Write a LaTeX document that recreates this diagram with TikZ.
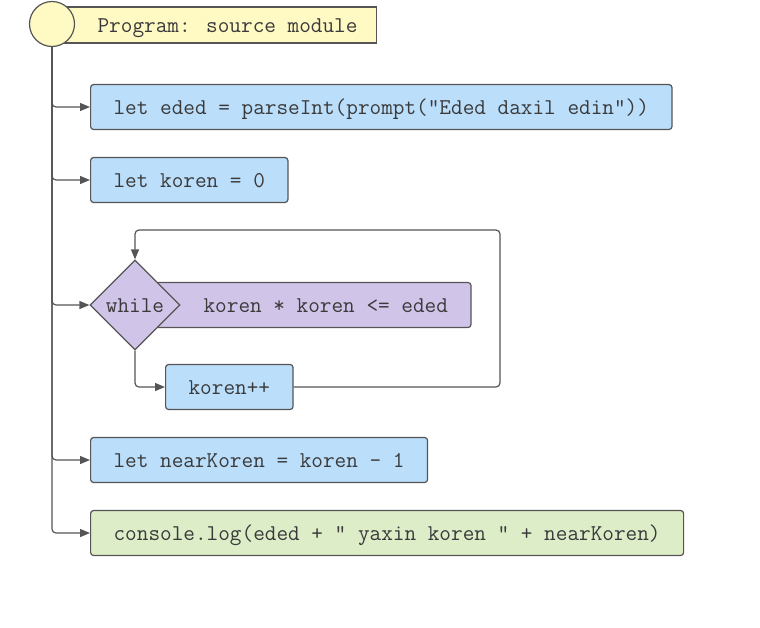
\documentclass[tikz,border=0pt]{standalone}
\usepackage{fontspec}
\usetikzlibrary{shapes.geometric,arrows.meta}
\definecolor{edgec}{HTML}{555555}
\definecolor{txtc}{HTML}{3A3A3A}
\definecolor{bluef}{HTML}{BBDEFB}
\definecolor{purf}{HTML}{D1C4E9}
\definecolor{greenf}{HTML}{DCEDC8}
\definecolor{yelf}{HTML}{FFF9C4}
\newcommand\mycodefont{\ttfamily\fontsize{22.6}{26}\selectfont}
\begin{document}
\begin{tikzpicture}[x=1pt,y=-1pt,
  codebox/.style={draw=edgec, line width=1.2pt, rounded corners=3pt, font=\mycodefont, text=txtc,
    minimum height=45pt, inner xsep=23pt, inner ysep=0pt, text height=14pt, text depth=0pt, anchor=west},
  bluebox/.style={codebox, fill=bluef},
  conn/.style={draw=edgec, line width=1.2pt, -{Triangle[length=10pt,width=8pt]}, rounded corners=4pt}]
\useasboundingbox (0,0) rectangle (760,627);
\node[codebox, fill=yelf, minimum height=36pt, inner xsep=0pt, rounded corners=0pt] (head) at (52,25)
  {\hspace*{45pt}Program: source module\hspace*{19pt}};
\node[circle, draw=edgec, line width=1.2pt, fill=yelf, minimum size=45pt, inner sep=0pt] (start) at (52,24) {};
\node[bluebox] (b1) at (90,107) {let eded = parseInt(prompt("Eded daxil edin"))};
\node[bluebox] (b2) at (90,180) {let koren = 0};
\node[codebox, fill=purf, inner xsep=0pt] (cond) at (155,305)
  {\hspace*{48pt}koren * koren <= eded\hspace*{23pt}};
\node[diamond, draw=edgec, line width=1.2pt, fill=purf, minimum width=90pt, minimum height=90pt,
  inner sep=0pt, font=\mycodefont, text=txtc, text height=14pt, text depth=0pt] (wh) at (135,305) {while};
\node[bluebox] (inc) at (165,387) {koren++};
\node[bluebox] (b4) at (90,460) {let nearKoren = koren - 1};
\node[codebox, fill=greenf] (b5) at (90,533) {console.log(eded + " yaxin koren " + nearKoren)};
\coordinate (loopc) at (500,230);
\draw[conn] (start.south) |- (b1.west);
\draw[conn] (start.south) |- (b2.west);
\draw[conn] (start.south) |- (wh.west);
\draw[conn] (start.south) |- (b4.west);
\draw[conn] (start.south) |- (b5.west);
\draw[conn] (wh.south) |- (inc.west);
\draw[conn] (inc.east) -| (loopc) -| (wh.north);
\end{tikzpicture}
\end{document}
